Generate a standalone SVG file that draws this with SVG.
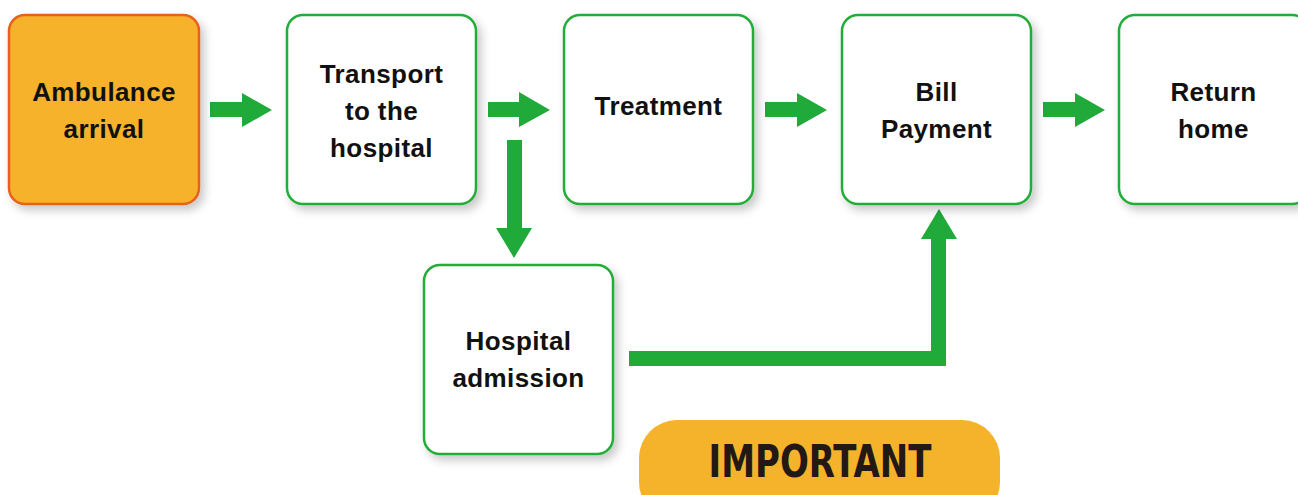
<svg xmlns="http://www.w3.org/2000/svg" width="1298" height="495" viewBox="0 0 1298 495">
<style>
.box{fill:#ffffff;stroke:#22ac38;stroke-width:2.5}
.start{fill:#f5b22b;stroke:#e8601c;stroke-width:2.5}
.lbl{font-family:"Liberation Sans",Arial,sans-serif;font-weight:bold;font-size:26px;fill:#111111;text-anchor:middle;letter-spacing:0.4px}
.arr{fill:#1faa39}
.imp{font-family:"DejaVu Sans Condensed","Liberation Sans",sans-serif;font-weight:bold;font-size:44px;fill:#231815;text-anchor:middle}
</style>
<defs>
<filter id="sh" x="-20%" y="-20%" width="140%" height="140%">
<feDropShadow dx="4" dy="5" stdDeviation="5" flood-color="#000000" flood-opacity="0.22"/>
</filter>
</defs>
<rect width="1298" height="495" fill="#ffffff"/>
<g id="connectors">
<polygon class="arr" points="210,102 242,102 242,93 272,110 242,127 242,117 210,117"/>
<polygon class="arr" points="488,102 519,102 519,92 550,110 519,127 519,117 488,117"/>
<polygon class="arr" points="765,102 797,102 797,93 827,110 797,127 797,117 765,117"/>
<polygon class="arr" points="1043,102 1075,102 1075,93 1105,110 1075,127 1075,117 1043,117"/>
<polygon class="arr" points="507,140 522,140 522,228 532,228 514,258 496,228 507,228"/>
<polygon class="arr" points="629,351 931,351 931,239 921,239 939,209 957,239 946,239 946,366 629,366"/>
</g>
<g id="n-ambulance">
<rect class="start" x="9" y="15" width="190" height="189" rx="16" filter="url(#sh)"/>
<text class="lbl" x="104" y="101">Ambulance</text>
<text class="lbl" x="104" y="138">arrival</text>
</g>
<g id="n-transport">
<rect class="box" x="287" y="15" width="189" height="189" rx="16" filter="url(#sh)"/>
<text class="lbl" x="381.5" y="83">Transport</text>
<text class="lbl" x="381.5" y="120">to the</text>
<text class="lbl" x="381.5" y="157">hospital</text>
</g>
<g id="n-treatment">
<rect class="box" x="564" y="15" width="189" height="189" rx="16" filter="url(#sh)"/>
<text class="lbl" x="658.5" y="115">Treatment</text>
</g>
<g id="n-bill">
<rect class="box" x="842" y="15" width="189" height="189" rx="16" filter="url(#sh)"/>
<text class="lbl" x="936.5" y="101">Bill</text>
<text class="lbl" x="936.5" y="138">Payment</text>
</g>
<g id="n-return">
<rect class="box" x="1119" y="15" width="189" height="189" rx="16" filter="url(#sh)"/>
<text class="lbl" x="1213.5" y="101">Return</text>
<text class="lbl" x="1213.5" y="138">home</text>
</g>
<g id="n-admission">
<rect class="box" x="424" y="265" width="189" height="189" rx="16" filter="url(#sh)"/>
<text class="lbl" x="518.5" y="350">Hospital</text>
<text class="lbl" x="518.5" y="387">admission</text>
</g>
<g id="n-important">
<rect x="639" y="420" width="361" height="100" rx="38" fill="#f5b22b"/>
<text class="imp" x="820" y="477" textLength="223" lengthAdjust="spacingAndGlyphs">IMPORTANT</text>
</g>
</svg>
